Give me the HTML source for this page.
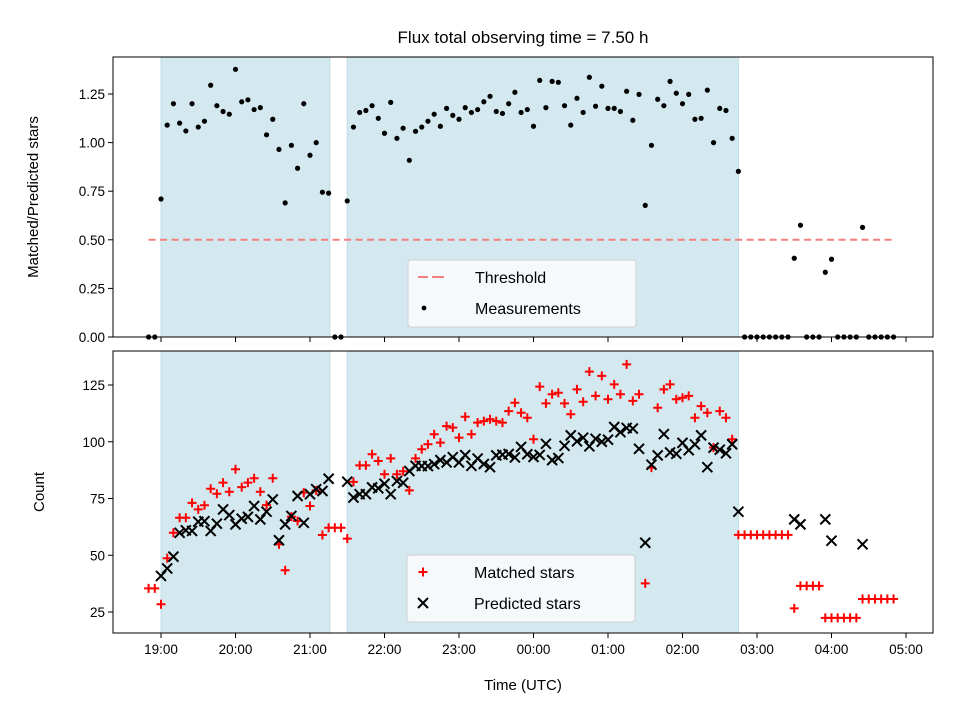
<!DOCTYPE html>
<html><head><meta charset="utf-8"><style>
html,body{margin:0;padding:0;background:#fff}
svg{display:block;font-family:"Liberation Sans","DejaVu Sans",sans-serif}
</style></head><body>
<svg id="chart" width="960" height="720" viewBox="0 0 960 720">
<text x="523" y="43" font-size="17" text-anchor="middle">Flux total observing time = 7.50 h</text>
</svg>
<script>
// sample index i -> minutes from 19:00 = -10 + 5*i
const ratio = [0,0,0.71,1.09,1.20,1.10,1.06,1.20,1.08,1.11,1.295,1.19,1.16,1.146,1.377,1.21,1.22,1.17,1.18,1.04,1.12,0.965,0.69,0.986,0.868,1.20,0.935,1.00,0.745,0.74,
0,0,0.70,1.08,1.155,1.165,1.19,1.125,1.048,1.207,1.022,1.074,0.909,1.058,1.08,1.11,1.146,1.084,1.176,1.14,1.12,1.18,1.155,1.17,1.21,1.238,1.16,1.15,1.20,1.259,
1.155,1.17,1.084,1.32,1.18,1.315,1.31,1.19,1.09,1.228,1.155,1.336,1.187,1.29,1.176,1.176,1.16,1.264,1.115,1.248,0.677,0.986,1.223,1.19,1.315,1.254,1.20,1.248,1.12,1.125,
1.27,1.00,1.176,1.165,1.022,0.852,0,0,0,0,0,0,0,0,0.405,0.575,0,0,0,0.333,0.40,0,0,0,0,0.564,0,0,0,0,0];
const matched = [35.4,35.4,28.4,48.7,59.9,66.5,66.5,73.1,70.2,72,79.3,77.1,82,78,87.9,80,82,83.9,78,72.1,83.9,54.8,43.4,67,65.1,77.6,71.7,78.6,58.9,62.1,
62.1,62.1,57.3,82.3,89.6,89.6,94.5,91.5,85.7,92.7,85.7,87,78.6,92.7,96.7,98.9,103.3,99.6,106.9,106.2,101.8,111,103.3,108.4,109.1,109.9,109.1,108.4,113.5,117.2,
112.8,110.6,101.1,124.3,116.9,120.9,121.6,116.9,112.1,123.1,117.6,130.9,120.2,129,118.7,125.3,120.9,134.1,118,120.9,37.6,88.6,115,123.1,125.3,118.7,119.4,120.2,110.6,115.7,
112.8,97.4,113.5,110.6,101.1,59,59,59,59,59,59,59,59,59,26.6,36.5,36.5,36.5,36.5,22.4,22.4,22.4,22.4,22.4,22.4,30.7,30.7,30.7,30.7,30.7,30.7];
const predicted = [null,null,40.9,44.2,49.4,59.9,61,60.7,64.8,65,60.7,63.9,70.2,67.7,63.6,66.1,66.9,71.7,65.8,69.2,74.6,56.6,63.6,67.3,76.1,64.3,76.9,79.1,78.3,83.7,
null,null,82.4,75.4,76.9,76.9,79.9,79.5,81.5,76.9,82.7,81.9,87.1,89.4,89.3,89.3,90.1,91.9,90.9,93.2,90.9,94.1,89.4,92.6,90.2,88.8,94,94.3,94.6,93.1,
97.7,94.5,93.3,94.2,99.1,91.9,92.8,98.2,102.8,100.2,101.8,98,101.3,100,100.9,106.5,104.2,106.1,105.8,96.9,55.5,89.9,94,103.4,95.3,94.7,99.5,96.3,98.8,102.8,
88.8,97.4,96.5,94.9,98.9,69.2,null,null,null,null,null,null,null,null,65.8,63.6,null,null,null,65.8,56.4,null,null,null,null,54.8,null,null,null,null,null];
const threshold = 0.5;
const spans = [[0,136],[150,465]]; // minutes from 19:00
const xTickLabels = ["19:00","20:00","21:00","22:00","23:00","00:00","01:00","02:00","03:00","04:00","05:00"];
const topTicks = [0,0.25,0.5,0.75,1.0,1.25];
const botTicks = [25,50,75,100,125];

const NS="http://www.w3.org/2000/svg";
const svgEl=document.getElementById('chart');
function mk(tag,attrs,parent){const e=document.createElementNS(NS,tag);for(const k in attrs)e.setAttribute(k,attrs[k]);(parent||svgEl).appendChild(e);return e;}
const L=113,R=933;
const topP={y0:57,y1:337}, botP={y0:351,y1:633};
function xs(min){return 161+min*74.5/60;}
function tmin(i){return -10+5*i;}
function yTop(v){return 337-v*194.4;}
function yBot(v){return 612-(v-25)*2.27;}

// panels
[topP,botP].forEach((p,pi)=>{
  const g=mk('g',{});
  
  
  spans.forEach((s,si)=>{
    const r=mk('rect',{x:xs(s[0]),y:p.y0,width:xs(s[1])-xs(s[0]),height:p.y1-p.y0,fill:'#d3e9ef',stroke:'#bcdde6','stroke-width':1},g);
    
    
  });
});

// threshold
const th=mk('line',{x1:xs(tmin(0)),x2:xs(tmin(120)),y1:yTop(threshold),y2:yTop(threshold),stroke:'#f47f7f','stroke-width':2,'stroke-dasharray':'7,4.5'});



// measurements
ratio.forEach((v,i)=>{
  const c=mk('circle',{cx:xs(tmin(i)),cy:yTop(v),r:2.6,fill:'#000'});
  
  
});
// matched
matched.forEach((v,i)=>{
  if(v==null)return;
  const x=xs(tmin(i)),y=yBot(v);
  const p=mk('path',{d:`M${x-4.5},${y}H${x+4.5}M${x},${y-4.5}V${y+4.5}`,stroke:'#ff0000','stroke-width':2});
  
  
});
predicted.forEach((v,i)=>{
  if(v==null)return;
  const x=xs(tmin(i)),y=yBot(v);
  const p=mk('path',{d:`M${x-5},${y-5}L${x+5},${y+5}M${x-5},${y+5}L${x+5},${y-5}`,stroke:'#000','stroke-width':2});
  
  
});

// axes frames and ticks
[topP,botP].forEach((p,pi)=>{
  const f=mk('rect',{x:L,y:p.y0,width:R-L,height:p.y1-p.y0,fill:'none',stroke:'#000','stroke-width':1});
  
  
  xTickLabels.forEach((lab,k)=>{
    const x=xs(k*60);
    mk('line',{x1:x,x2:x,y1:p.y1,y2:p.y1+5,stroke:'#000','stroke-width':1});
    if(pi===1){
      const t=mk('text',{x:x,y:p.y1+21,'font-size':13.5,'text-anchor':'middle'});
      t.textContent=lab;
      
      
    }
  });
  const ticks=pi===0?topTicks:botTicks, fy=pi===0?yTop:yBot;
  ticks.forEach(v=>{
    const y=fy(v);
    mk('line',{x1:L-5,x2:L,y1:y,y2:y,stroke:'#000','stroke-width':1});
    const t=mk('text',{x:L-8,y:y+5,'font-size':13.5,'text-anchor':'end'});
    t.textContent=pi===0?v.toFixed(2):String(v);
    
    
  });
});

// axis labels
let t=mk('text',{x:38,y:197,'font-size':15,'text-anchor':'middle',transform:'rotate(-90 38 197)'});
t.textContent='Matched/Predicted stars';


t=mk('text',{x:44,y:492,'font-size':15,'text-anchor':'middle',transform:'rotate(-90 44 492)'});
t.textContent='Count';


t=mk('text',{x:523,y:690,'font-size':15,'text-anchor':'middle'});
t.textContent='Time (UTC)';



// legends
function legend(x,y,name,items){
  const g=mk('g',{});
  
  
  mk('rect',{x:x,y:y,width:228,height:67,rx:3,fill:'#f6f9fb',stroke:'#d0d0d0','stroke-width':1},g);
  items.forEach((it,k)=>{
    const cy=y+17+k*31;
    const mx=x+22;
    if(it.t==='dash'){mk('path',{d:`M${mx-12},${cy}h10M${mx+2},${cy}h12`,stroke:'#f47f7f','stroke-width':2},g);}
    if(it.t==='dot'){mk('circle',{cx:mx-6,cy:cy,r:2.4,fill:'#000'},g);}
    if(it.t==='plus'){mk('path',{d:`M${mx-10.5},${cy}h9M${mx-6},${cy-4.5}v9`,stroke:'#f00','stroke-width':2},g);}
    if(it.t==='x'){mk('path',{d:`M${mx-11},${cy-5}l10,10M${mx-11},${cy+5}l10,-10`,stroke:'#000','stroke-width':2},g);}
    const tt=mk('text',{x:x+67,y:cy+6,'font-size':16},g);
    tt.textContent=it.l;
    
    
  });
}
legend(408,260,'top-legend',[{t:'dash',l:'Threshold'},{t:'dot',l:'Measurements'}]);
legend(407,555,'bottom-legend',[{t:'plus',l:'Matched stars'},{t:'x',l:'Predicted stars'}]);
</script>
</body></html>
